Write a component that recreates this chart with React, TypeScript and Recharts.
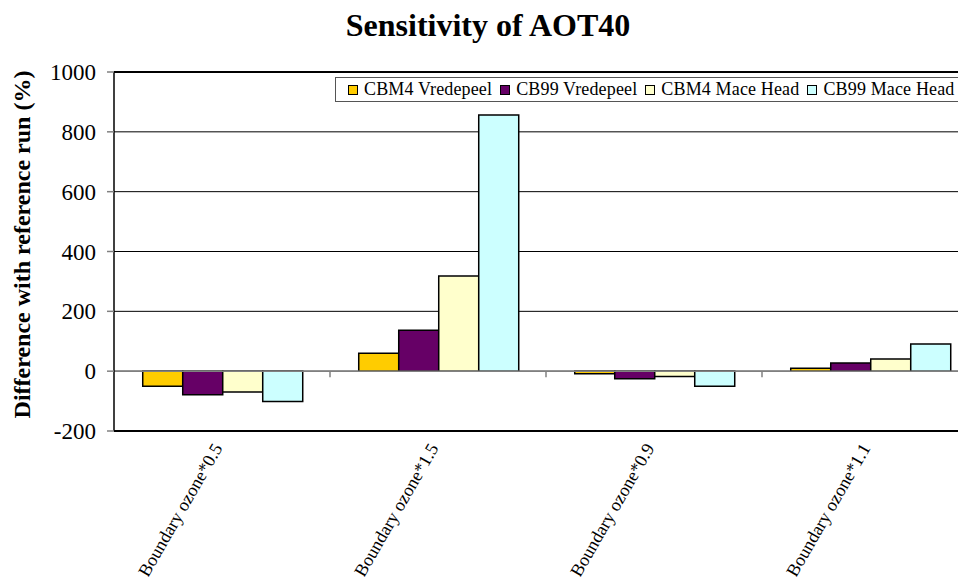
import React from "react";
import {
  BarChart,
  Bar,
  XAxis,
  YAxis,
  CartesianGrid,
  ReferenceLine,
  Legend,
} from "recharts";

const categories = [
  "Boundary ozone*0.5",
  "Boundary ozone*1.5",
  "Boundary ozone*0.9",
  "Boundary ozone*1.1",
];
const cbm4Vredepeel = [-50, 60, -9, 10];
const cb99Vredepeel = [-79, 137, -25, 27];
const cbm4MaceHead = [-70, 318, -18, 41];
const cb99MaceHead = [-101, 856, -50, 91];
const yTicks = [-200, 0, 200, 400, 600, 800, 1000];

const series = [
  { key: "cbm4V", name: "CBM4 Vredepeel", color: "#FFCC00" },
  { key: "cb99V", name: "CB99 Vredepeel", color: "#660066" },
  { key: "cbm4M", name: "CBM4 Mace Head", color: "#FFFFCC" },
  { key: "cb99M", name: "CB99 Mace Head", color: "#CCFFFF" },
];

const data = categories.map((name, i) => ({
  name,
  cbm4V: cbm4Vredepeel[i],
  cb99V: cb99Vredepeel[i],
  cbm4M: cbm4MaceHead[i],
  cb99M: cb99MaceHead[i],
}));

const FONT = '"Liberation Serif", "Times New Roman", serif';

const CategoryTick = (props: any) => {
  const { x, y, payload } = props;
  return (
    <g transform={`translate(${x + 1},${y + 9})`}>
      <text
        x={0}
        y={0}
        textAnchor="end"
        transform="rotate(-60)"
        style={{ fontFamily: FONT, fontSize: 18 }}
        fill="#000"
      >
        {payload.value}
      </text>
    </g>
  );
};

// zero line with the category boundary ticks (Excel style)
const ZeroLine = (props: any) => {
  const { x1, y1, x2, y2 } = props;
  const step = (x2 - x1) / categories.length;
  return (
    <g>
      <line x1={x1} y1={y1} x2={x2} y2={y2} stroke="#808080" strokeWidth={1.5} />
      {categories.slice(1).map((_, i) => (
        <line
          key={i}
          x1={x1 + step * (i + 1)}
          x2={x1 + step * (i + 1)}
          y1={y1}
          y2={y1 + 6}
          stroke="#808080"
          strokeWidth={1.5}
        />
      ))}
    </g>
  );
};

const LegendBox = () => (
  <div
    style={{
      display: "flex",
      alignItems: "center",
      gap: 8,
      border: "1px solid #555",
      background: "#fff",
      height: 25,
      padding: "0 14px 0 12px",
      fontFamily: FONT,
      fontSize: 18,
      letterSpacing: 0.15,
      whiteSpace: "nowrap",
      boxSizing: "border-box",
    }}
  >
    {series.map((s) => (
      <div key={s.key} style={{ display: "flex", alignItems: "center", gap: 6 }}>
        <span
          style={{
            display: "inline-block",
            width: 8,
            height: 8,
            background: s.color,
            border: "1px solid #000",
          }}
        />
        <span>{s.name}</span>
      </div>
    ))}
  </div>
);

export default function App() {
  return (
    <div
      style={{
        margin: -8,
        width: 966,
        height: 585,
        overflow: "hidden",
        position: "relative",
        background: "#fff",
      }}
    >
      <div
        style={{
          position: "absolute",
          top: 7,
          left: 0,
          width: 976,
          textAlign: "center",
          fontFamily: FONT,
          fontWeight: "bold",
          fontSize: 32,
          lineHeight: "36px",
          zIndex: 2,
        }}
      >
        Sensitivity of AOT40
      </div>
      <BarChart
        width={990}
        height={585}
        data={data}
        margin={{ top: 72, right: 12, bottom: 0, left: 0 }}
        barCategoryGap="13.3%"
        barGap={0}
      >
        <CartesianGrid vertical={false} stroke="#000" strokeWidth={1} />
        <XAxis
          dataKey="name"
          interval={0}
          height={154}
          axisLine={{ stroke: "#000", strokeWidth: 2 }}
          tickLine={false}
          tick={<CategoryTick />}
        />
        <YAxis
          width={114}
          domain={[-200, 1000]}
          ticks={yTicks}
          interval={0}
          axisLine={{ stroke: "#000", strokeWidth: 1.5 }}
          tickLine={{ stroke: "#808080", strokeWidth: 1.5 }}
          tickSize={7}
          tickMargin={11}
          tick={{ fontSize: 23, fill: "#000", style: { fontFamily: FONT } }}
          label={(p: any) => {
            const vb = p.viewBox;
            const cx = vb.x + 22;
            const cy = vb.y + vb.height / 2 - 7;
            return (
              <text
                x={cx}
                y={cy}
                transform={`rotate(-90, ${cx}, ${cy})`}
                textAnchor="middle"
                dominantBaseline="central"
                style={{ fontFamily: FONT, fontWeight: "bold", fontSize: 24 }}
                fill="#000"
              >
                Difference with reference run (%)
              </text>
            );
          }}
        />
        <ReferenceLine y={1000} stroke="#000" strokeWidth={2} />
        {series.map((s) => (
          <Bar
            key={s.key}
            dataKey={s.key}
            name={s.name}
            fill={s.color}
            stroke="#000"
            strokeWidth={1.5}
            isAnimationActive={false}
          />
        ))}
        <ReferenceLine y={0} shape={<ZeroLine />} />
        <Legend
          layout="horizontal"
          verticalAlign="middle"
          align="center"
          wrapperStyle={{ top: 77, left: 335, width: 660 }}
          content={<LegendBox />}
        />
      </BarChart>
    </div>
  );
}
